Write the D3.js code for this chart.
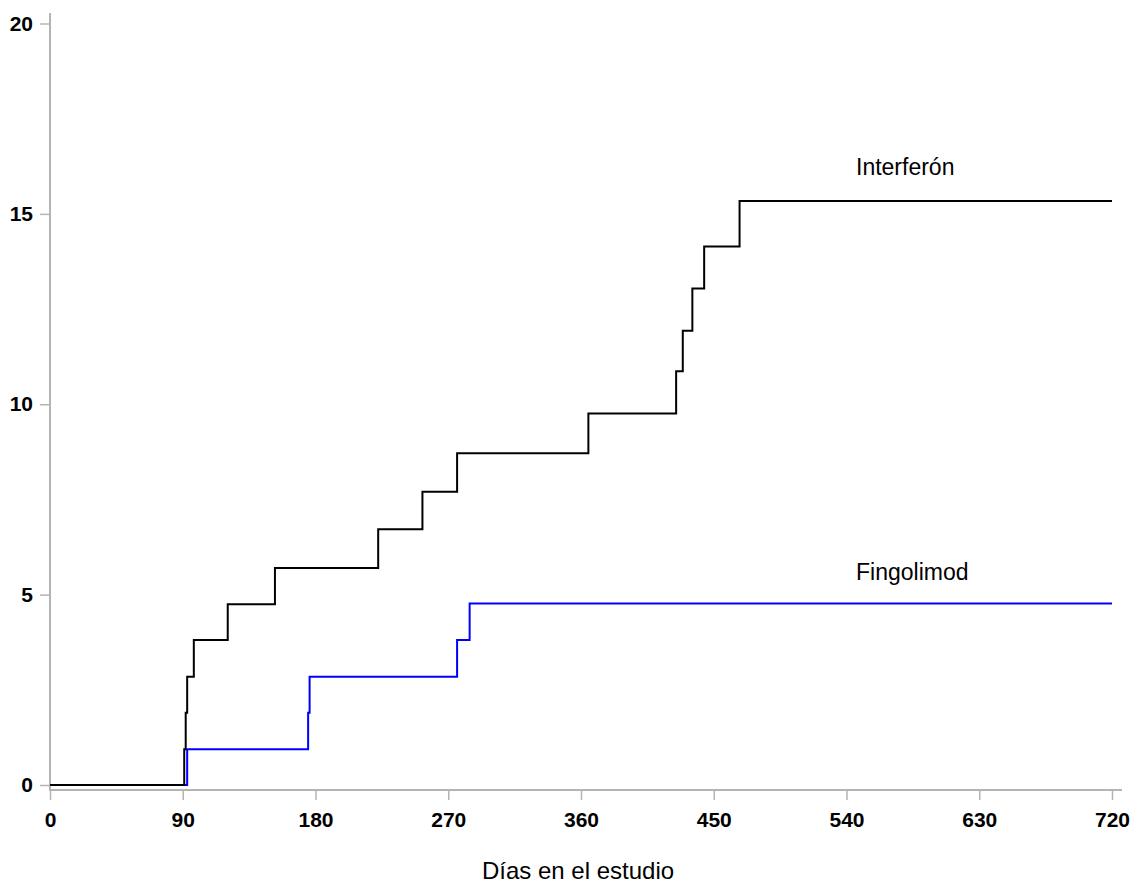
<!DOCTYPE html>
<html lang="es">
<head>
<meta charset="utf-8">
<script src="https://d3js.org/d3.v7.min.js"></script>
<style>
  body { margin: 0; background: #ffffff; font-family: "Liberation Sans", Arial, sans-serif; }
  .axis text { font: bold 21px "Liberation Sans", Arial, sans-serif; fill: #000; }
  .axis line { stroke: #b4b4b4; stroke-width: 1.5px; }
  .axis path { display: none; }
  .axis-line { stroke: #b4b4b4; stroke-width: 2px; }
  .serie { fill: none; stroke-width: 2px; }
  .etiqueta { font: 23px "Liberation Sans", Arial, sans-serif; fill: #000; }
  .titulo { font: 24px "Liberation Sans", Arial, sans-serif; fill: #000; text-anchor: middle; }
</style>
</head>
<body>
<script>
// days in study and cumulative percentage
var interferonDays = [0, 91, 92, 93, 97.5, 120.5, 152.5, 222.5, 252.5, 276, 365, 424.5, 429, 435.5, 443.5, 467.5, 720];
var interferonPct  = [0, 0.94, 1.9, 2.84, 3.81, 4.75, 5.70, 6.72, 7.70, 8.71, 9.76, 10.87, 11.93, 13.04, 14.14, 15.34, 15.34];

var fingolimodDays = [0, 93, 175, 176, 276, 284.5, 720];
var fingolimodPct  = [0, 0.94, 1.9, 2.84, 3.81, 4.77, 4.77];

var xTicks = [0, 90, 180, 270, 360, 450, 540, 630, 720];
var yTicks = [0, 5, 10, 15, 20];

var width = 1131, height = 883;

var x = d3.scaleLinear().domain([0, 720]).range([50, 1112]);
var y = d3.scaleLinear().domain([0, 20]).range([785, 23.5]);

var svg = d3.select("body").append("svg")
    .attr("width", width)
    .attr("height", height);

// axes
svg.append("line").attr("class", "axis-line")
    .attr("x1", 50).attr("x2", 50).attr("y1", 13).attr("y2", 791);
svg.append("line").attr("class", "axis-line")
    .attr("x1", 49).attr("x2", 1122).attr("y1", 790).attr("y2", 790);

svg.append("g")
    .attr("class", "axis")
    .attr("transform", "translate(50,0)")
    .call(d3.axisLeft(y).tickValues(yTicks).tickSize(10).tickPadding(7).tickFormat(d3.format("d")));

svg.append("g")
    .attr("class", "axis")
    .attr("transform", "translate(0,790)")
    .call(d3.axisBottom(x).tickValues(xTicks).tickSize(10).tickPadding(12).tickFormat(d3.format("d")));

// step lines
var line = d3.line()
    .x(function(d) { return x(d[0]); })
    .y(function(d) { return y(d[1]); })
    .curve(d3.curveStepAfter);

svg.append("path")
    .datum(d3.zip(fingolimodDays, fingolimodPct))
    .attr("class", "serie")
    .attr("stroke", "#0000ff")
    .attr("d", line);

svg.append("path")
    .datum(d3.zip(interferonDays, interferonPct))
    .attr("class", "serie")
    .attr("stroke", "#000000")
    .attr("d", line);

// series labels
svg.append("text").attr("class", "etiqueta")
    .attr("x", 856).attr("y", 175)
    .text("Interferón");
svg.append("text").attr("class", "etiqueta")
    .attr("x", 856).attr("y", 580)
    .text("Fingolimod");

// axis title
svg.append("text").attr("class", "titulo")
    .attr("x", 578).attr("y", 879)
    .text("Días en el estudio");
</script>
</body>
</html>
